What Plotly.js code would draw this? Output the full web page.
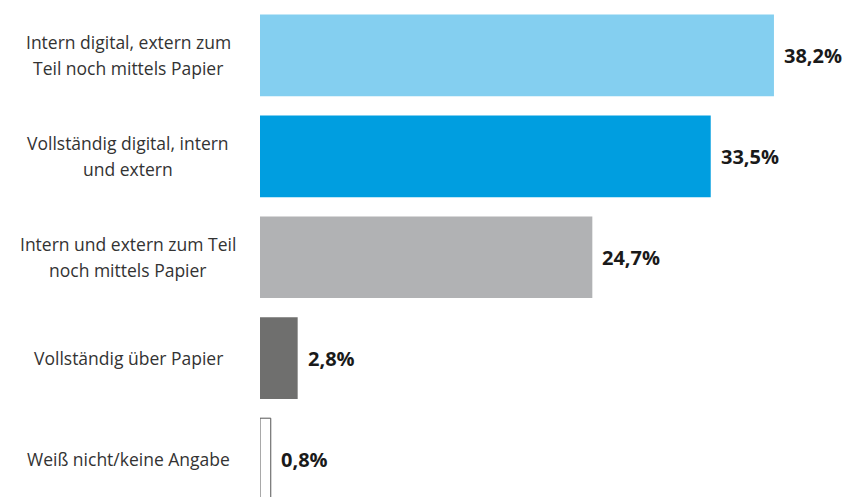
<!DOCTYPE html>
<html>
<head>
<meta charset="utf-8">
<script src="https://cdn.plot.ly/plotly-3.0.1.min.js"></script>
<style>html,body{margin:0;padding:0;background:#fff;}#chart{width:852px;height:497px;}</style>
</head>
<body>
<div id="chart"></div>
<script>
const categories = [
  "Intern digital, extern zum<br>Teil noch mittels Papier",
  "Vollständig digital, intern<br>und extern",
  "Intern und extern zum Teil<br>noch mittels Papier",
  "Vollständig über Papier",
  "Weiß nicht/keine Angabe"
];
const values = [38.2, 33.5, 24.7, 2.8, 0.8];
const valueLabels = ["38,2%", "33,5%", "24,7%", "2,8%", "0,8%"];
const colors = ["#84cff0", "#009ee0", "#b1b2b4", "#6f6f6e", "#ffffff"];
const lineColors = ["#84cff0", "#009ee0", "#b1b2b4", "#6f6f6e", "#555555"];
const lineWidths = [0, 0, 0, 0, 1];

const idx = categories.map((c, i) => i);

const trace = {
  type: "bar",
  orientation: "h",
  x: values,
  y: idx,
  width: 0.81,
  marker: { color: colors, line: { color: lineColors, width: lineWidths } },
  hoverinfo: "skip"
};

const annotations = [];
const lineGap = 26;
categories.forEach((c, i) => {
  const lines = c.split("<br>");
  lines.forEach((ln, k) => {
    const shift = ((lines.length - 1) / 2 - k) * lineGap;
    annotations.push({
      xref: "paper", yref: "y", x: (128 - 260) / 592, y: i,
      xanchor: "center", yanchor: "middle", align: "center", yshift: shift,
      text: ln, showarrow: false,
      font: { family: "Open Sans, sans-serif", size: 17.5, color: "#333333" }
    });
  });
  annotations.push({
    xref: "x", yref: "y", x: values[i], y: i,
    xanchor: "left", yanchor: "middle", xshift: 8,
    text: "<b>" + valueLabels[i] + "</b>", showarrow: false,
    font: { family: "Open Sans, sans-serif", size: 20, color: "#1a1a1a" }
  });
});

const layout = {
  width: 852, height: 497,
  margin: { l: 260, r: 0, t: 4.5, b: 0 },
  paper_bgcolor: "#ffffff", plot_bgcolor: "#ffffff",
  showlegend: false,
  xaxis: { range: [0, 44.0], visible: false, showgrid: false, zeroline: false },
  yaxis: { range: [4.376, -0.5], visible: false, showgrid: false, zeroline: false },
  annotations: annotations
};

Plotly.newPlot("chart", [trace], layout, { displayModeBar: false, staticPlot: true });
</script>
</body>
</html>
